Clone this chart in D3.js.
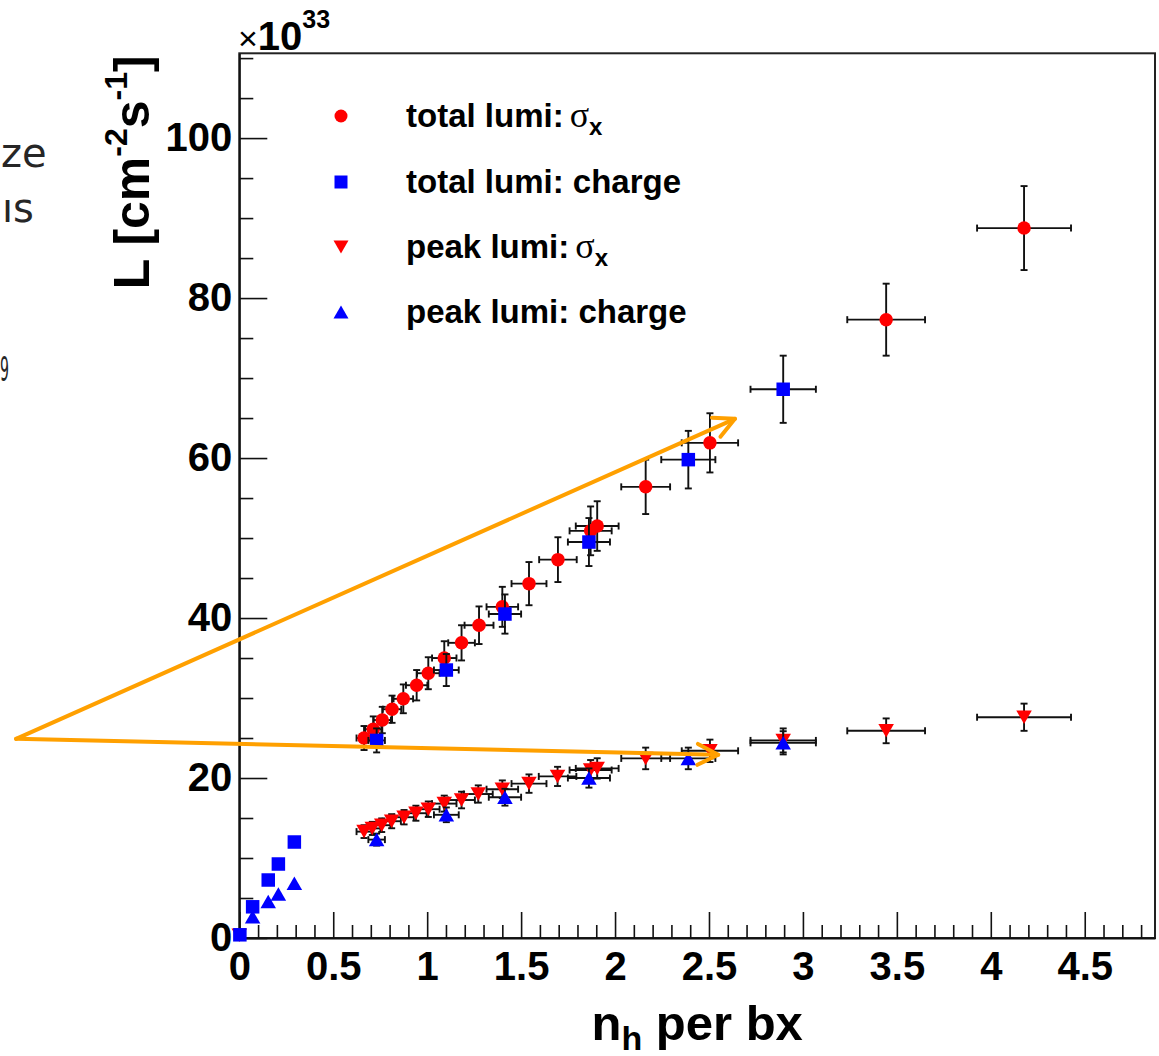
<!DOCTYPE html>
<html><head><meta charset="utf-8">
<script src="https://cdn.jsdelivr.net/npm/d3@7"></script>
<style>body{margin:0;background:#fff} svg{display:block}</style>
</head><body>
<svg id="c" width="1159" height="1056"></svg>
<script>
// ---------------- data ----------------
const totalSigmaX  = [0.664,0.713,0.761,0.813,0.873,0.944,1.006,1.091,1.183,1.276,1.400,1.542,1.696,1.870,1.905,2.163,2.505,3.443,4.177];
const totalSigmaY  = [25.0,26.1,27.25,28.6,29.9,31.6,33.1,35.0,36.9,39.1,41.4,44.3,47.3,50.9,51.5,56.4,61.9,77.3,88.75];
const totalSigmaEX = [0.040,0.043,0.046,0.049,0.052,0.057,0.060,0.065,0.071,0.077,0.084,0.093,0.100,0.112,0.114,0.130,0.150,0.207,0.250];
const totalSigmaEY = [1.5,1.6,1.65,1.7,1.8,1.9,2.0,2.1,2.2,2.35,2.5,2.7,2.8,3.05,3.1,3.4,3.7,4.5,5.25];

const totalChargeX  = [0.003,0.071,0.154,0.208,0.293,0.731,1.102,1.414,1.861,2.390,2.895];
const totalChargeY  = [0.4,3.9,7.25,9.25,12.0,24.7,33.5,40.5,49.5,59.8,68.6];
const totalChargeEX = [0,0,0,0,0,0.044,0.066,0.086,0.112,0.144,0.174];
const totalChargeEY = [0,0,0,0,0,1.5,2.0,2.45,3.0,3.6,4.2];

const peakSigmaX  = [0.0,0.664,0.708,0.758,0.811,0.877,0.940,1.006,1.091,1.183,1.272,1.400,1.542,1.694,1.870,1.905,2.163,2.505,2.895,3.443,4.177];
const peakSigmaY  = [0.35,13.3,13.7,14.1,14.6,15.1,15.6,16.1,16.8,17.25,18.0,18.6,19.3,20.2,21.0,21.2,22.45,23.4,24.7,25.9,27.6];
const peakSigmaEX = [0,0.040,0.043,0.046,0.049,0.052,0.057,0.060,0.065,0.071,0.077,0.084,0.093,0.100,0.112,0.114,0.130,0.150,0.174,0.207,0.250];
const peakSigmaEY = [0,0.8,0.82,0.85,0.88,0.9,0.94,0.97,1.0,1.04,1.08,1.1,1.15,1.2,1.25,1.27,1.35,1.4,1.5,1.55,1.7];

const peakChargeX  = [0.071,0.154,0.208,0.293,0.731,1.102,1.414,1.861,2.390,2.895];
const peakChargeY  = [2.65,4.55,5.5,6.85,12.3,15.4,17.6,20.0,22.45,24.4];
const peakChargeEX = [0,0,0,0,0.044,0.066,0.086,0.112,0.144,0.174];
const peakChargeEY = [0,0,0,0,0.75,0.92,1.05,1.2,1.35,1.45];

const xTickValues = [0,0.5,1,1.5,2,2.5,3,3.5,4,4.5];
const xTickLabels = ["0","0.5","1","1.5","2","2.5","3","3.5","4","4.5"];
const yTickValues = [0,20,40,60,80,100];
const yTickLabels = ["0","20","40","60","80","100"];

const legendLabels = ["total lumi:", "total lumi: charge", "peak lumi:", "peak lumi: charge"];
const legendSigma  = [true, false, true, false];

// annotation arrows (data coordinates): common origin and two tips
const arrowOrigin = [-1.188, 24.9];
const arrowTips   = [[2.638, 64.9], [2.549, 22.9]];

// left handwritten note fragments (the rest of the note lies outside the picture)
const noteTexts = ["ze", "ıs", "9"];

// ---------------- layout ----------------
const svg = d3.select("#c");
const L = 239.3, R = 1155, T = 53.3, B = 938;
const x = d3.scaleLinear().domain([0, 4.874]).range([L, R]);
const y = d3.scaleLinear().domain([0, 110.6]).range([B, T]);
const FONT = "'Liberation Sans', Arial, Helvetica, sans-serif";
const RED = "#ff0000", BLUE = "#0000ff", ORANGE = "#ffa000";

// note fragments
const notePos = [[1,167,"40px",null],[2,222,"40px",null],[0,381,"34px",9]];
svg.append("g").selectAll("text").data(noteTexts).join("text")
  .attr("x",(d,i)=>notePos[i][0]).attr("y",(d,i)=>notePos[i][1])
  .each(function(d,i){ if(notePos[i][3]) d3.select(this).attr("textLength",notePos[i][3]).attr("lengthAdjust","spacingAndGlyphs"); })
  .style("font-family","'DejaVu Sans', sans-serif").style("font-size",(d,i)=>notePos[i][2])
  .attr("fill","#262626").text(d=>d);

// frame
svg.append("rect").attr("x",L).attr("y",T).attr("width",R-L).attr("height",B-T)
  .attr("fill","none").attr("stroke","#222").attr("stroke-width",2);

// x axis
const xMinor = d3.range(0, 49).map(i=>i/10).filter(v => Math.abs(v*2 - Math.round(v*2))>1e-6);
const gxm = svg.append("g").attr("transform",`translate(0,${B})`)
  .call(d3.axisBottom(x).tickValues(xMinor).tickSizeInner(-13).tickSizeOuter(0).tickFormat(""));
gxm.select(".domain").remove();
const gx = svg.append("g").attr("transform",`translate(0,${B})`)
  .call(d3.axisBottom(x).tickValues(xTickValues).tickSizeInner(-26).tickSizeOuter(0).tickPadding(14)
    .tickFormat((d,i)=>xTickLabels[i]));
// y axis
const yMinor = d3.range(0, 111, 5).filter(v => v%20!==0);
const gym = svg.append("g").attr("transform",`translate(${L},0)`)
  .call(d3.axisLeft(y).tickValues(yMinor).tickSizeInner(-14).tickSizeOuter(0).tickFormat(""));
gym.select(".domain").remove();
const gy = svg.append("g").attr("transform",`translate(${L},0)`)
  .call(d3.axisLeft(y).tickValues(yTickValues).tickSizeInner(-28).tickSizeOuter(0).tickPadding(7)
    .tickFormat((d,i)=>yTickLabels[i]));
svg.selectAll(".tick line").attr("stroke","#111").attr("stroke-width",1.6);
svg.selectAll(".domain").attr("stroke","#111").attr("stroke-width",2);
svg.selectAll(".tick text").style("font-family",FONT).style("font-weight","bold")
  .style("font-size","40px").attr("fill","#000");

// x10^33
const exp = svg.append("text").attr("x",238).attr("y",50).style("font-family",FONT).attr("fill","#000");
exp.append("tspan").style("font-size","34px").text("×");
exp.append("tspan").style("font-size","40px").style("font-weight","bold").text("10");
exp.append("tspan").style("font-size","25px").style("font-weight","bold").attr("dy",-22).text("33");

// axis titles
const xt = svg.append("text").attr("x",(L+R)/2).attr("y",1040).attr("text-anchor","middle")
  .style("font-family",FONT).style("font-weight","bold").style("font-size","49px").attr("fill","#000");
xt.append("tspan").text("n");
xt.append("tspan").style("font-size","34px").attr("dy",10).text("h");
xt.append("tspan").attr("dy",-10).text(" per bx");

const yt = svg.append("text").attr("transform",`translate(149,${T+2}) rotate(-90)`).attr("text-anchor","end")
  .style("font-family",FONT).style("font-weight","bold").style("font-size","50px").attr("fill","#000");
yt.append("tspan").text("L [cm");
yt.append("tspan").style("font-size","32px").attr("dy",-22).text("-2");
yt.append("tspan").attr("dy",22).text("s");
yt.append("tspan").style("font-size","32px").attr("dy",-22).text("-1");
yt.append("tspan").attr("dy",22).text("]");

// ---------------- markers ----------------
function markerPath(kind, s){
  if(kind==="circle") return d3.symbol(d3.symbolCircle, Math.PI*s*s/4)();
  if(kind==="square") return `M${-s/2},${-s/2}h${s}v${s}h${-s}Z`;
  const w = s*1.15/2, h = s/2;
  if(kind==="down") return `M${-w},${-h}L${w},${-h}L0,${h}Z`;
  return `M${-w},${h}L${w},${h}L0,${-h}Z`;
}
function drawSeries(xs, ys, exs, eys, kind, color){
  const g = svg.append("g");
  const pts = xs.map((v,i)=>({x:v,y:ys[i],ex:exs[i],ey:eys[i]}));
  const eb = g.append("g").attr("stroke","#111").attr("stroke-width",1.9).attr("fill","none");
  pts.forEach(p=>{
    const cx=x(p.x), cy=y(p.y), cap=3.5;
    if(p.ex>0){
      const x1=x(p.x-p.ex), x2=x(p.x+p.ex);
      eb.append("line").attr("x1",x1).attr("x2",x2).attr("y1",cy).attr("y2",cy);
      eb.append("line").attr("x1",x1).attr("x2",x1).attr("y1",cy-cap).attr("y2",cy+cap);
      eb.append("line").attr("x1",x2).attr("x2",x2).attr("y1",cy-cap).attr("y2",cy+cap);
    }
    if(p.ey>0){
      const y1=y(p.y-p.ey), y2=y(p.y+p.ey);
      eb.append("line").attr("x1",cx).attr("x2",cx).attr("y1",y1).attr("y2",y2);
      eb.append("line").attr("x1",cx-cap).attr("x2",cx+cap).attr("y1",y1).attr("y2",y1);
      eb.append("line").attr("x1",cx-cap).attr("x2",cx+cap).attr("y1",y2).attr("y2",y2);
    }
  });
  g.append("g").selectAll("path").data(pts).join("path")
    .attr("transform",p=>`translate(${x(p.x)},${y(p.y)})`)
    .attr("d",markerPath(kind,13.5)).attr("fill",color);
}
drawSeries(totalSigmaX,totalSigmaY,totalSigmaEX,totalSigmaEY,"circle",RED);
drawSeries(peakSigmaX,peakSigmaY,peakSigmaEX,peakSigmaEY,"down",RED);
drawSeries(totalChargeX,totalChargeY,totalChargeEX,totalChargeEY,"square",BLUE);
drawSeries(peakChargeX,peakChargeY,peakChargeEX,peakChargeEY,"up",BLUE);

// ---------------- legend ----------------
const legKinds = ["circle","square","down","up"], legColors=[RED,BLUE,RED,BLUE];
const legRowY = [116,182,247,312];
legendLabels.forEach((lab,i)=>{
  svg.append("path").attr("transform",`translate(341,${legRowY[i]})`)
    .attr("d",markerPath(legKinds[i],13)).attr("fill",legColors[i]);
  const t = svg.append("text").attr("x",406).attr("y",legRowY[i]+11)
    .style("font-family",FONT).style("font-weight","bold").style("font-size","33px").attr("fill","#000");
  t.append("tspan").text(lab);
  if(legendSigma[i]){
    t.append("tspan").attr("dx",6).style("font-family","'Liberation Serif','Times New Roman',serif")
      .style("font-weight","normal").style("font-size","36px").text("σ");
    t.append("tspan").attr("dy",8).style("font-size","24px").text("x");
  }
});

// ---------------- annotation arrows ----------------
const ag = svg.append("g").attr("stroke",ORANGE).attr("stroke-width",4).attr("fill","none")
  .attr("stroke-linecap","round").attr("stroke-linejoin","round");
arrowTips.forEach(tip=>{
  const x0=x(arrowOrigin[0]), y0=y(arrowOrigin[1]), x1=x(tip[0]), y1=y(tip[1]);
  ag.append("line").attr("x1",x0).attr("y1",y0).attr("x2",x1).attr("y2",y1);
  const a = Math.atan2(y0-y1, x0-x1), len=23, h=27*Math.PI/180;
  ag.append("path").attr("d",
    `M${x1+len*Math.cos(a+h)},${y1+len*Math.sin(a+h)}L${x1},${y1}L${x1+len*Math.cos(a-h)},${y1+len*Math.sin(a-h)}`);
});
</script>
</body></html>
